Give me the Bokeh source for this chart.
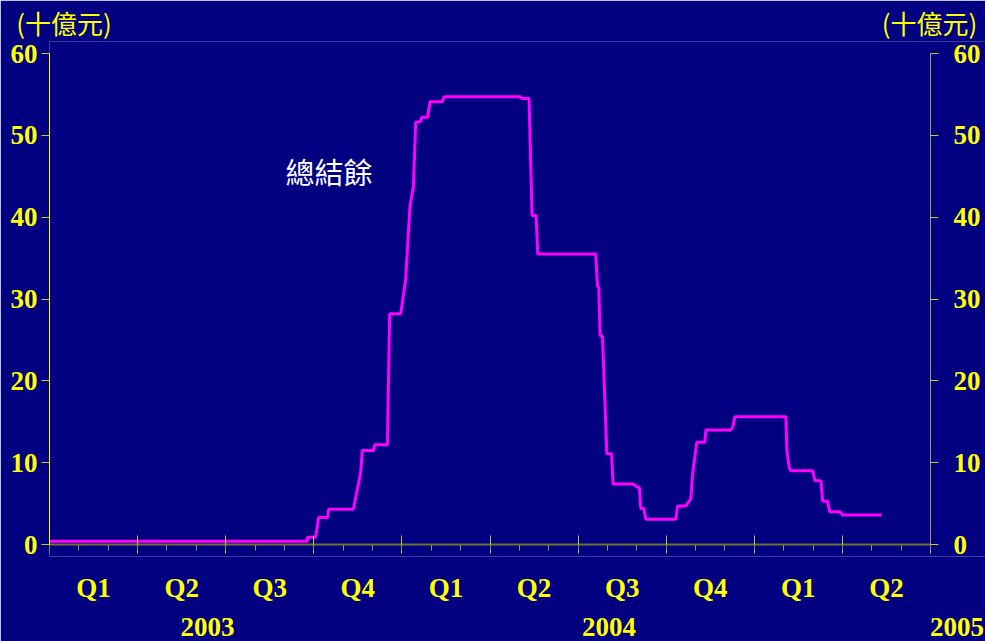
from bokeh.plotting import figure
from bokeh.models import (LinearAxis, FixedTicker, Range1d, Label,
                          CustomJSTickFormatter)
from bokeh.embed import file_html
from bokeh.resources import INLINE

# months since start of Jan 2003
months = [0.000, 8.780, 8.790, 9.063, 9.165, 9.472, 9.506, 10.348, 10.596, 10.654,
          11.039, 11.073, 11.506, 11.584, 11.959, 12.129, 12.276, 12.392, 12.470,
          12.641, 12.675, 12.879, 12.957, 13.380, 13.434, 16.048, 16.082, 16.330,
          16.433, 16.569, 16.627, 18.603, 18.661, 18.705, 18.750, 18.831, 18.978,
          19.138, 19.193, 19.864, 20.024, 20.085, 20.136, 20.239, 20.307, 21.329,
          21.387, 21.670, 21.840, 21.898, 22.044, 22.317, 22.351, 23.203, 23.271,
          23.339, 25.077, 25.111, 25.189, 25.247, 25.986, 26.065, 26.269, 26.327,
          26.497, 26.566, 26.927, 27.009, 28.337]
balance = [0.4, 0.4, 0.9, 0.9, 3.3, 3.3, 4.3, 4.3, 8.8, 11.5,
           11.5, 12.2, 12.2, 28.2, 28.2, 32.4, 41.4, 43.7, 51.6,
           51.7, 52.2, 52.2, 54.1, 54.1, 54.7, 54.7, 54.5, 54.5,
           40.2, 40.2, 35.5, 35.5, 31.5, 31.5, 25.5, 25.5, 11.1,
           11.1, 7.4, 7.4, 7.0, 7.0, 4.4, 4.4, 3.1, 3.1,
           4.7, 4.7, 5.6, 8.6, 12.5, 12.5, 14.0, 14.0, 14.4,
           15.6, 15.6, 11.5, 9.4, 9.0, 9.0, 7.8, 7.8, 5.3,
           5.3, 4.0, 4.0, 3.6, 3.6]

quarter_labels = ["Q1", "Q2", "Q3", "Q4", "Q1", "Q2", "Q3", "Q4", "Q1", "Q2"]
years = ["2003", "2004", "2005"]
year_pos = [5.38, 19.05, 30.9]
y_ticks = [0, 10, 20, 30, 40, 50, 60]
series_name = "總結餘"
unit_label = "(十億元)"
unit_pos = [0.494, 29.97]
X_END = 30            # data span: Jan 2003 .. Jun 2005 (30 months)
Y_END = 60

NAVY = "#000080"
YELLOW = "#FFFF00"
SERIF = "Liberation Serif"
CJK = "Noto Sans CJK TC"

# frame is padded so that pinned axes and their labels are not clipped
PX_PER_Y = 491 / Y_END
PAD_Y = 12 / PX_PER_Y
p = figure(width=985, height=641, output_backend="svg", toolbar_location=None,
           x_range=Range1d(0, X_END * 936 / 881),
           y_range=Range1d(-PAD_Y, Y_END + PAD_Y),
           min_border_left=49, min_border_right=0, min_border_top=41,
           min_border_bottom=85, background_fill_color=NAVY,
           border_fill_color=NAVY, outline_line_color=None)
p.grid.visible = False

xa = p.below[0]
ya = p.left[0]


def text_axis(ticks, labels, standoff, font, size, style="bold"):
    return LinearAxis(ticker=FixedTicker(ticks=ticks, minor_ticks=[]),
                      major_label_overrides={t: s for t, s in zip(ticks, labels)},
                      axis_line_color=None, major_tick_line_color=None,
                      minor_tick_line_color=None, major_tick_out=0,
                      major_tick_in=0, major_label_standoff=standoff,
                      major_label_text_font=font,
                      major_label_text_font_style=style,
                      major_label_text_font_size=size,
                      major_label_text_color=YELLOW)


# bottom axis with quarter / month ticks, pinned at y = 0
xa.fixed_location = 0
xa.bounds = (0, X_END)
xa.ticker = FixedTicker(ticks=list(range(0, X_END + 1, 3)),
                        minor_ticks=list(range(X_END + 1)))
xa.formatter = CustomJSTickFormatter(code="return ''")
xa.major_label_text_font_size = "1px"
xa.major_label_standoff = 0
xa.axis_line_color = "#707030"
xa.axis_line_width = 2
xa.major_tick_line_color = "#C8C83C"
xa.major_tick_in = 9
xa.major_tick_out = 9
xa.minor_tick_line_color = "#909040"
xa.minor_tick_in = 0
xa.minor_tick_out = 6

# unit labels above the plot
p.add_layout(text_axis(unit_pos, [unit_label] * 2, 1, CJK, "26px",
                       style="normal"), "above")

qpos = [1.5 + 3 * i for i in range(len(quarter_labels))]
p.add_layout(text_axis(qpos, quarter_labels, 16, SERIF, "27px"), "below")
p.add_layout(text_axis(year_pos, years, 12, SERIF, "27px"), "below")

ya.bounds = (0, Y_END)
ya.ticker = FixedTicker(ticks=y_ticks, minor_ticks=[])
ya.axis_line_color = YELLOW
ya.major_tick_line_color = "#C8C83C"
ya.major_tick_in = 0
ya.major_tick_out = 8
ya.major_label_standoff = 4
ya.major_label_text_font = SERIF
ya.major_label_text_font_style = "bold"
ya.major_label_text_font_size = "27px"
ya.major_label_text_color = YELLOW

ra = LinearAxis(ticker=FixedTicker(ticks=y_ticks, minor_ticks=[]),
                fixed_location=X_END, bounds=(0, Y_END),
                axis_line_color="#A0A040", major_tick_line_color="#C8C83C",
                major_tick_in=0, major_tick_out=8, major_label_standoff=15,
                major_label_text_font=SERIF, major_label_text_font_style="bold",
                major_label_text_font_size="27px", major_label_text_color=YELLOW)
p.add_layout(ra, "right")

p.line(months, balance, line_color="#FF00FF", line_width=3)

p.add_layout(Label(x=8.04, y=45.7, text=series_name, text_font=CJK,
                   text_font_size="29px", text_color="white",
                   text_baseline="middle", text_align="left"))

open("out.html", "w").write(file_html(p, INLINE))
